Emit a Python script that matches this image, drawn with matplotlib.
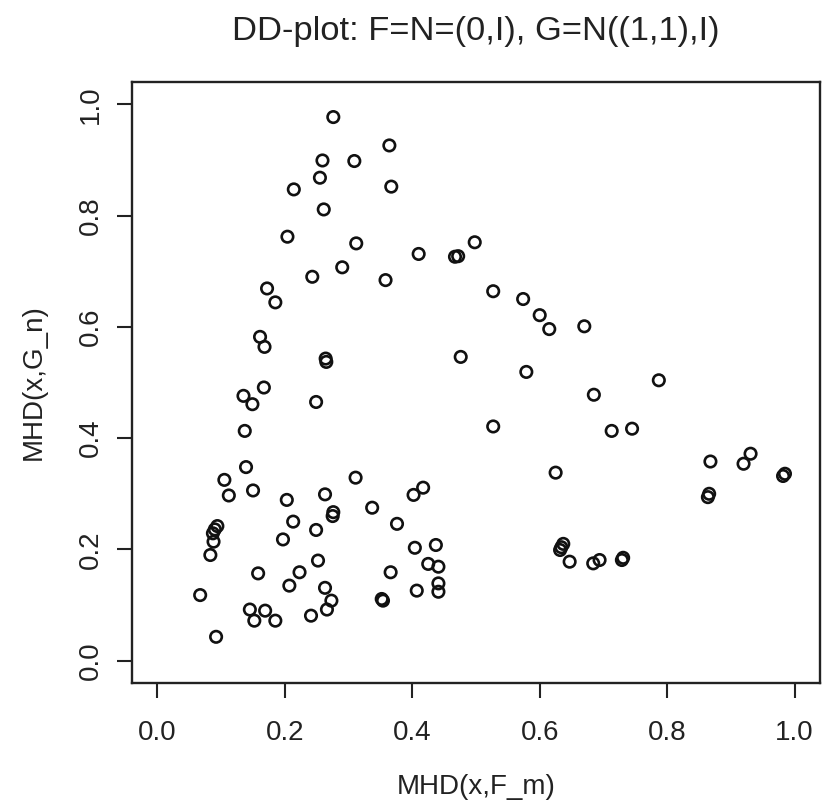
import matplotlib
matplotlib.use("Agg")
import matplotlib.pyplot as plt

plt.rcParams['font.family'] = ['Liberation Sans', 'DejaVu Sans']

mhd_f = [0.276, 0.364, 0.259, 0.309, 0.255, 0.214, 0.367, 0.261, 0.204, 0.312,
         0.410, 0.467, 0.472, 0.498, 0.243, 0.290, 0.358, 0.172, 0.185, 0.161,
         0.168, 0.264, 0.265, 0.476,
         0.527, 0.574, 0.600, 0.615, 0.670, 0.579, 0.787,
         0.167, 0.135, 0.149, 0.249, 0.137, 0.139, 0.105, 0.112, 0.150, 0.311,
         0.203, 0.263, 0.417, 0.402, 0.337, 0.275, 0.276, 0.213, 0.249, 0.376,
         0.094, 0.090, 0.087, 0.088, 0.083, 0.197, 0.404, 0.437, 0.425, 0.441,
         0.252, 0.158, 0.223, 0.207, 0.366, 0.263, 0.273, 0.441, 0.441, 0.407,
         0.067, 0.352, 0.354, 0.145, 0.169, 0.152, 0.185, 0.266, 0.241, 0.092,
         0.685, 0.527, 0.713, 0.745, 0.625, 0.868, 0.931, 0.920, 0.982, 0.985,
         0.864, 0.866, 0.637, 0.632, 0.634, 0.647, 0.694, 0.684, 0.729, 0.731]

mhd_g = [0.977, 0.926, 0.899, 0.898, 0.868, 0.847, 0.852, 0.811, 0.762, 0.750,
         0.731, 0.726, 0.727, 0.752, 0.690, 0.707, 0.684, 0.669, 0.644, 0.582,
         0.564, 0.543, 0.537, 0.546,
         0.664, 0.650, 0.621, 0.596, 0.601, 0.519, 0.504,
         0.491, 0.476, 0.461, 0.465, 0.413, 0.348, 0.325, 0.297, 0.306, 0.329,
         0.289, 0.299, 0.311, 0.298, 0.275, 0.260, 0.267, 0.250, 0.235, 0.246,
         0.242, 0.236, 0.229, 0.214, 0.190, 0.218, 0.203, 0.208, 0.174, 0.169,
         0.180, 0.157, 0.159, 0.135, 0.159, 0.131, 0.108, 0.139, 0.124, 0.126,
         0.118, 0.111, 0.108, 0.092, 0.090, 0.072, 0.072, 0.092, 0.081, 0.043,
         0.478, 0.421, 0.413, 0.417, 0.338, 0.358, 0.372, 0.354, 0.332, 0.336,
         0.294, 0.300, 0.210, 0.199, 0.204, 0.178, 0.181, 0.175, 0.181, 0.185]

ticks = [0.0, 0.2, 0.4, 0.6, 0.8, 1.0]
tick_labels = ["0.0", "0.2", "0.4", "0.6", "0.8", "1.0"]

fig = plt.figure(figsize=(8.33, 8.10), dpi=100)
ax = fig.add_axes([132/833, 1 - 683/810, (820 - 132)/833, (683 - 82)/810])

ax.scatter(mhd_f, mhd_g, s=68, facecolors='none', edgecolors='#111111', linewidths=1.9)

ax.set_xlim(-0.04, 1.04)
ax.set_ylim(-0.04, 1.04)
ax.set_xticks(ticks)
ax.set_xticklabels(tick_labels)
ax.set_yticks(ticks)
ax.set_yticklabels(tick_labels, rotation=90, va='center')

for sp in ax.spines.values():
    sp.set_linewidth(1.7)
    sp.set_color('#222222')

ax.tick_params(axis='both', direction='out', length=10.5, width=1.5,
               labelsize=20, colors='#222222')
ax.tick_params(axis='x', pad=16)
ax.tick_params(axis='y', pad=10)

ax.set_xlabel("MHD(x,F_m)", fontsize=20, labelpad=20, color='#222222')
ax.set_ylabel("MHD(x,G_n)", fontsize=20, labelpad=22, color='#222222')
ax.set_title("DD-plot: F=N=(0,I), G=N((1,1),I)", fontsize=24.8, pad=30, color='#222222')

fig.savefig("out.png", dpi=100)
